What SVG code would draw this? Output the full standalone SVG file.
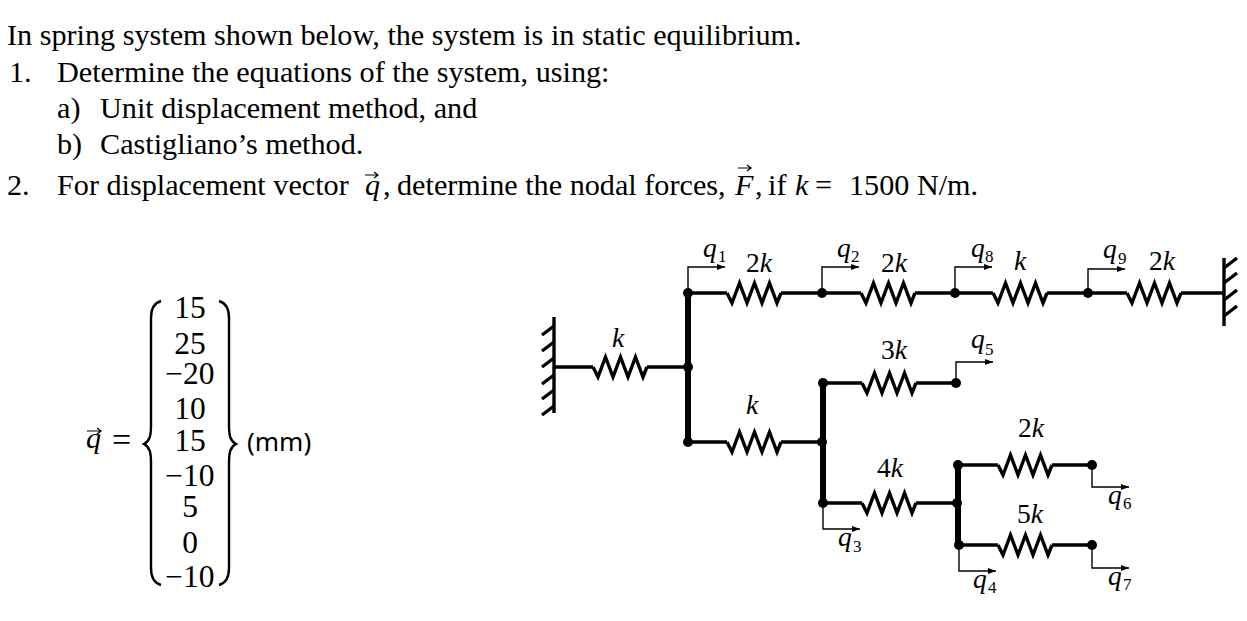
<svg xmlns="http://www.w3.org/2000/svg" width="1247" height="621" viewBox="0 0 1247 621">
<style>
text{font-family:"Liberation Serif","Times New Roman",serif;fill:#000}
.t{font-size:30.2px}
.m{font-size:31.5px;text-anchor:middle}
.v{font-size:27.5px;font-style:italic}
.s{font-size:17px}
.l{font-size:27.5px}
.l tspan{font-style:italic}
.w{fill:none;stroke:#000;stroke-width:3.4}
.b{fill:none;stroke:#000;stroke-width:6}
.a{fill:none;stroke:#000;stroke-width:1.4;marker-end:url(#h)}
.sp{fill:none;stroke:#000;stroke-width:3.4;stroke-linejoin:miter}
.br{fill:none;stroke:#000;stroke-width:2.4}
.va{fill:none;stroke:#000;stroke-width:1.2}
</style>
<defs>
<marker id="h" markerUnits="userSpaceOnUse" markerWidth="9" markerHeight="8" refX="8" refY="3" orient="auto"><path d="M0 0L8 3L0 6Z" fill="#000"/></marker>
<path id="spring" d="M0 0L5 10L12.5 -10L20 10L27.5 -10L35 10L42.5 -10L50 10L54 0"/>
</defs>
<rect width="1247" height="621" fill="#fff"/>
<g id="statement">
<text class="t" x="7" y="44.5">In spring system shown below, the system is in static equilibrium.</text>
<text class="t" x="9" y="81.5">1.</text>
<text class="t" x="57" y="81.5">Determine the equations of the system, using:</text>
<text class="t" x="57" y="117.5">a)</text>
<text class="t" x="100" y="117.5">Unit displacement method, and</text>
<text class="t" x="57" y="153.5">b)</text>
<text class="t" x="100" y="153.5">Castigliano’s method.</text>
<text class="t" x="7" y="194.5">2.</text>
<text class="t" x="57" y="194.5">For displacement vector</text>
<text class="t" x="365" y="194.5" font-style="italic">q</text>
<path class="va" d="M365 175H378M374 172L378 175L374 178"/>
<text class="t" x="383" y="194.5">,</text>
<text class="t" x="397" y="194.5">determine the nodal forces,</text>
<text class="t" x="735" y="194.5" font-style="italic">F</text>
<path class="va" d="M738 168H751M747 165L751 168L747 171"/>
<text class="t" x="755" y="194.5">,</text>
<text class="t" x="768" y="194.5">if</text>
<text class="t" x="795" y="194.5" font-style="italic">k</text>
<text class="t" x="815" y="194.5">=</text>
<text class="t" x="849" y="194.5">1500 N/m.</text>
</g>
<g id="vector">
<text class="t" x="86" y="448" font-style="italic">q</text>
<path class="va" d="M87 431H101M97 428L101 431L97 434"/>
<text x="112" y="451" font-size="34">=</text>
<path class="br" d="M161 301C154 303 151 309 151 318V425C151 435 150 441 144 444C150 447 151 453 151 463V568C151 578 154 583 161 585"/>
<path class="br" d="M219 301C226 303 229 309 229 318V425C229 435 230 441 236 444C230 447 229 453 229 463V568C229 578 226 583 219 585"/>
<text class="m" x="190" y="318">15</text>
<text class="m" x="190" y="354">25</text>
<text class="m" x="190" y="384">−20</text>
<text class="m" x="190" y="419">10</text>
<text class="m" x="190" y="451">15</text>
<text class="m" x="190" y="486">−10</text>
<text class="m" x="190" y="517">5</text>
<text class="m" x="190" y="553">0</text>
<text class="m" x="190" y="587">−10</text>
<text x="247" y="451" font-size="26" style="font-family:'Noto Sans','Liberation Sans',sans-serif">(mm)</text>
</g>
<g id="connectors">
<path class="b" d="M688 293V442M823 383V503M958 465V545"/>
<path class="w" d="M688 293H727M781 293H861M915 293H993M1047 293H1127M1181 293H1224"/>
<path class="w" d="M554 367H593M647 367H688"/>
<path class="w" d="M688 442H727M781 442H823"/>
<path class="w" d="M823 383H862M916 383H956"/>
<path class="w" d="M823 503H862M916 503H958"/>
<path class="w" d="M958 465H998M1052 465H1092"/>
<path class="w" d="M958 545H998M1052 545H1092"/>
<use href="#spring" class="sp" x="727" y="293"/>
<use href="#spring" class="sp" x="861" y="293"/>
<use href="#spring" class="sp" x="993" y="293"/>
<use href="#spring" class="sp" x="1127" y="293"/>
<use href="#spring" class="sp" x="593" y="367"/>
<use href="#spring" class="sp" x="727" y="442"/>
<use href="#spring" class="sp" x="862" y="383"/>
<use href="#spring" class="sp" x="862" y="503"/>
<use href="#spring" class="sp" x="998" y="465"/>
<use href="#spring" class="sp" x="998" y="545"/>
</g>
<g id="spring-labels">
<text class="l" x="746" y="272">2<tspan>k</tspan></text>
<text class="l" x="881" y="272">2<tspan>k</tspan></text>
<text class="l" x="1014" y="270"><tspan>k</tspan></text>
<text class="l" x="1149" y="270">2<tspan>k</tspan></text>
<text class="l" x="612" y="347"><tspan>k</tspan></text>
<text class="l" x="746" y="414"><tspan>k</tspan></text>
<text class="l" x="881" y="359">3<tspan>k</tspan></text>
<text class="l" x="877" y="477">4<tspan>k</tspan></text>
<text class="l" x="1018" y="437">2<tspan>k</tspan></text>
<text class="l" x="1017" y="523">5<tspan>k</tspan></text>
</g>
<g id="wall-left">
<path class="w" d="M554 317V413"/>
<path class="w" d="M554 326L542 335M554 342L542 351M554 358L542 367M554 375L542 384M554 390L542 399M554 406L542 415"/>
</g>
<g id="wall-right">
<path class="w" d="M1224 258V326"/>
<path class="w" d="M1224 268L1237 258M1224 283L1237 273M1224 300L1237 290M1224 316L1237 306"/>
</g>
<g id="node-q1"><circle cx="688" cy="293" r="5"/><path class="a" d="M688 288V267H725"/><text class="v" x="703" y="257">q</text><text class="s" x="718" y="262">1</text></g>
<g id="node-q2"><circle cx="822" cy="293" r="5"/><path class="a" d="M822 288V267H859"/><text class="v" x="837" y="257">q</text><text class="s" x="851" y="262">2</text></g>
<g id="node-q8"><circle cx="955" cy="293" r="5"/><path class="a" d="M955 288V267H992"/><text class="v" x="971" y="257">q</text><text class="s" x="985" y="262">8</text></g>
<g id="node-q9"><circle cx="1088" cy="293" r="5"/><path class="a" d="M1088 288V269H1125"/><text class="v" x="1103" y="258">q</text><text class="s" x="1118" y="264">9</text></g>
<g id="node-q5"><circle cx="956" cy="383" r="5"/><path class="a" d="M956 378V362H993"/><text class="v" x="971" y="348">q</text><text class="s" x="985" y="355">5</text></g>
<g id="node-q3"><circle cx="823" cy="503" r="5"/><path class="a" d="M823 508V529H860"/><text class="v" x="838" y="546">q</text><text class="s" x="853" y="552">3</text></g>
<g id="node-q4"><circle cx="959" cy="545" r="5"/><path class="a" d="M959 550V571H996"/><text class="v" x="973" y="588">q</text><text class="s" x="988" y="593">4</text></g>
<g id="node-q6"><circle cx="1092" cy="465" r="5"/><path class="a" d="M1092 470V487H1129"/><text class="v" x="1108" y="504">q</text><text class="s" x="1123" y="509">6</text></g>
<g id="node-q7"><circle cx="1092" cy="545" r="5"/><path class="a" d="M1092 550V568H1129"/><text class="v" x="1108" y="585">q</text><text class="s" x="1123" y="590">7</text></g>
<g id="junctions">
<circle cx="688" cy="367" r="5"/><circle cx="688" cy="442" r="5"/>
<circle cx="823" cy="383" r="5"/><circle cx="822" cy="442" r="5"/>
<circle cx="958" cy="465" r="5"/><circle cx="957" cy="503" r="5"/>
</g>
</svg>
